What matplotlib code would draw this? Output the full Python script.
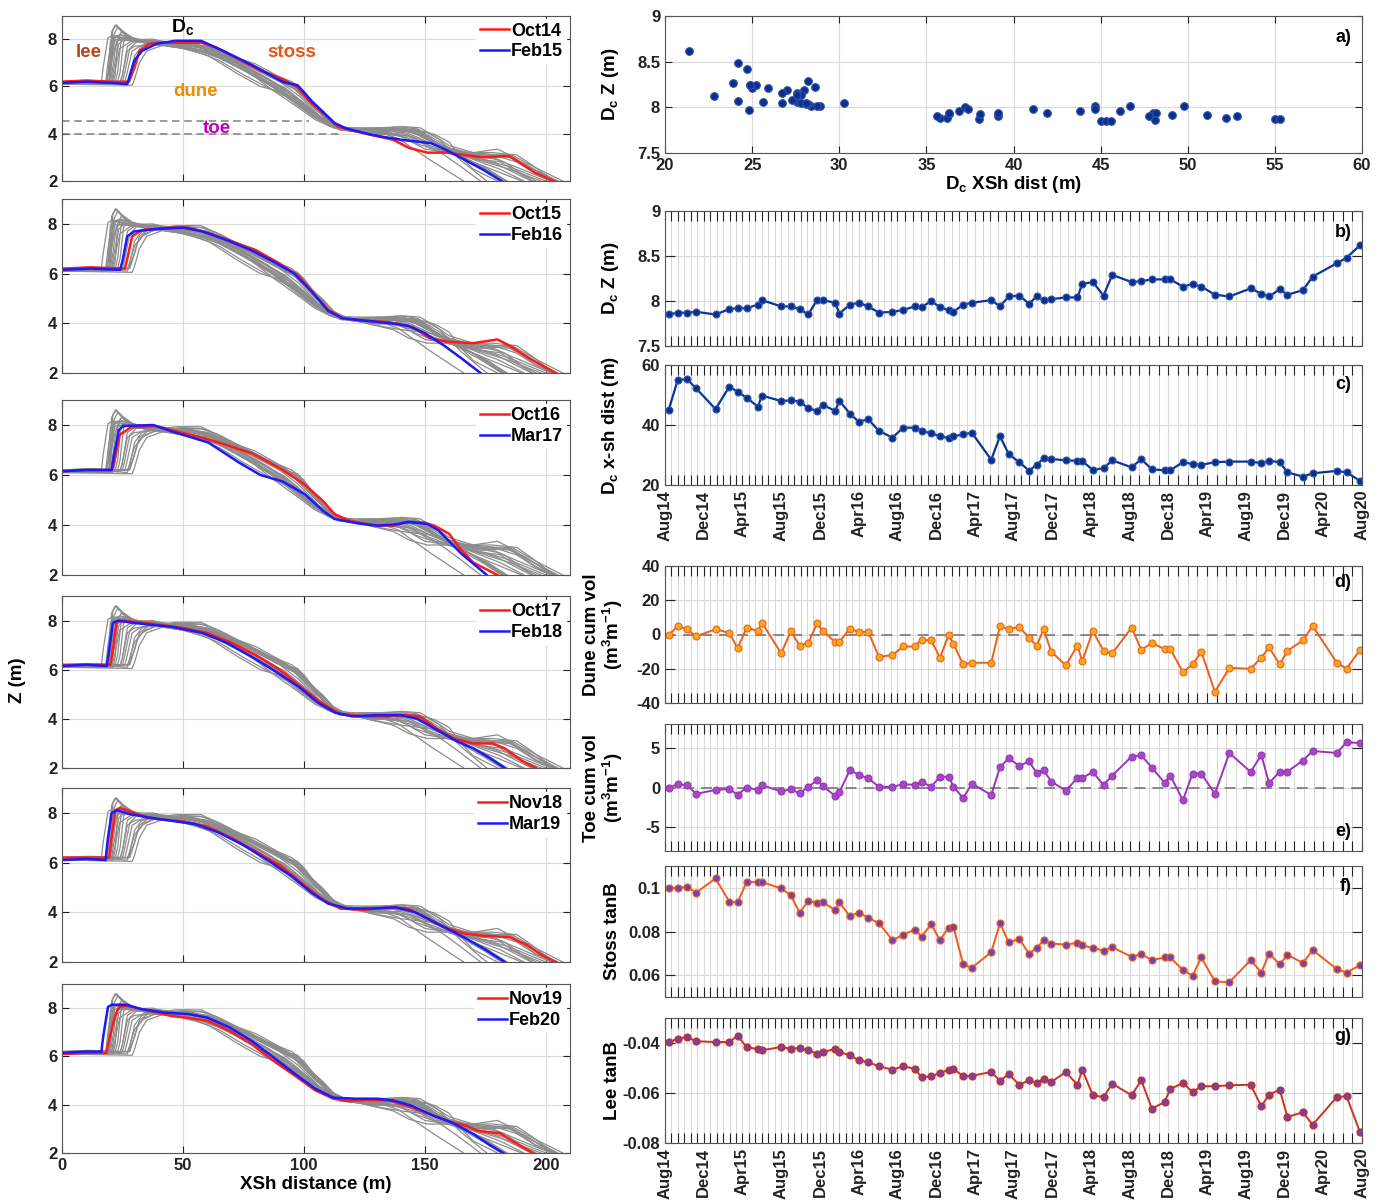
import numpy as np
import matplotlib
matplotlib.use('Agg')
from matplotlib import pyplot as plt
from matplotlib.lines import Line2D

plt.rcParams['font.family'] = ['Liberation Sans', 'DejaVu Sans']
plt.rcParams['font.weight'] = 'bold'
plt.rcParams['axes.labelweight'] = 'bold'
plt.rcParams['mathtext.fontset'] = 'custom'
plt.rcParams['mathtext.rm'] = 'Liberation Sans:bold'
plt.rcParams['mathtext.it'] = 'Liberation Sans:bold'
plt.rcParams['mathtext.bf'] = 'Liberation Sans:bold'
plt.rcParams['axes.unicode_minus'] = False

# ---------------- time series (66 surveys), months since Aug 2014 ----------------
survey_month = [0.37, 1.32, 2.27, 3.22, 5.22, 6.65, 7.49, 8.44, 9.6, 10.0,
                12.0, 13.0, 13.9, 14.8, 15.7, 16.3, 17.6, 18.0, 19.1, 20.0,
                21.0, 22.1, 23.5, 24.6, 25.8, 26.5, 27.5, 28.4, 29.3, 29.8,
                30.8, 31.7, 33.7, 34.6, 35.5, 36.6, 37.6, 38.4, 39.1, 39.9,
                41.4, 42.6, 43.1, 44.2, 45.3, 46.2, 48.2, 49.2, 50.3, 51.6,
                52.2, 53.5, 54.5, 55.4, 56.8, 58.3, 60.5, 61.6, 62.4, 63.5,
                64.3, 65.9, 66.9, 69.4, 70.4, 71.8]

dc_z = [7.85, 7.87, 7.87, 7.88, 7.85, 7.91, 7.92, 7.92, 7.96, 8.01,
        7.94, 7.94, 7.91, 7.85, 8.01, 8.01, 7.98, 7.86, 7.96, 7.98,
        7.94, 7.87, 7.88, 7.90, 7.94, 7.93, 8.00, 7.93, 7.90, 7.88,
        7.96, 7.98, 8.01, 7.94, 8.05, 8.06, 7.97, 8.05, 8.01, 8.02,
        8.04, 8.04, 8.19, 8.21, 8.06, 8.29, 8.21, 8.22, 8.24, 8.24,
        8.24, 8.16, 8.19, 8.16, 8.07, 8.05, 8.14, 8.08, 8.05, 8.13,
        8.07, 8.12, 8.27, 8.42, 8.48, 8.62]

dc_dist = [45.0, 55.0, 55.3, 52.2, 45.3, 52.8, 51.1, 49.1, 46.1, 49.8,
           48.0, 48.2, 47.8, 45.6, 44.7, 46.7, 44.7, 48.1, 43.8, 41.1,
           41.9, 38.0, 35.8, 39.1, 39.1, 38.1, 37.2, 36.3, 35.6, 36.2,
           36.9, 37.4, 28.4, 36.3, 30.3, 27.6, 24.8, 26.7, 28.9, 28.7,
           28.2, 28.1, 28.0, 25.0, 25.6, 28.2, 25.9, 28.6, 25.2, 24.9,
           24.9, 27.6, 27.0, 26.7, 27.6, 27.8, 27.8, 27.3, 28.1, 27.6,
           24.2, 22.8, 23.9, 24.7, 24.2, 21.4]

dune_vol = [-0.5, 5, 3, -1, 3, 1, -8, 4, 2, 7,
            -11, 2, -6.5, -5, 6.5, 2, -4.5, -4.5, 3.5, 1.5,
            1.5, -13, -12, -7, -7, -3, -3.5, -13.5, -0.5, -5.5,
            -17.5, -16.5, -16.5, 5, 3, 4.5, -2, -6.5, 3, -10,
            -18, -6.5, -15.5, 2, -9.5, -11, 4, -9, -5, -8.5,
            -8.5, -22, -17.5, -10, -33.5, -19.5, -20, -13.5, -7.5, -17.5,
            -9.5, -3.5, 5, -16.5, -20, -9]

toe_vol = [0, 0.4, 0.3, -0.8, -0.3, -0.2, -0.9, 0, -0.3, 0.3,
           -0.5, -0.2, -0.75, 0.1, 0.9, 0.2, -1.1, -0.6, 2.2, 1.6,
           1.15, 0.1, 0.1, 0.4, 0.35, 0.7, 0.1, 1.35, 1.35, 0.1,
           -1.35, 0.5, -0.95, 2.55, 3.7, 2.7, 3.3, 1.8, 2.2, 0.75,
           -0.4, 1.2, 1.2, 1.95, 0.3, 1.5, 3.9, 4.05, 2.5, 0.6,
           1.5, -1.6, 1.75, 1.75, -0.8, 4.35, 1.95, 4.1, 0.55, 2.0,
           2.0, 3.4, 4.6, 4.35, 5.7, 5.6]

stoss_tanb = [0.1000, 0.1000, 0.1005, 0.0978, 0.1043, 0.0936, 0.0933, 0.1027, 0.1027, 0.1027,
              0.0997, 0.0966, 0.0887, 0.0939, 0.0932, 0.0934, 0.0898, 0.0933, 0.0870, 0.0887,
              0.0863, 0.0838, 0.0760, 0.0785, 0.0809, 0.0776, 0.0834, 0.0760, 0.0818, 0.0821,
              0.0650, 0.0634, 0.0705, 0.0837, 0.0751, 0.0765, 0.0699, 0.0725, 0.0760, 0.0745,
              0.0740, 0.0748, 0.0736, 0.0725, 0.0712, 0.0728, 0.0684, 0.0696, 0.0669, 0.0681,
              0.0681, 0.0623, 0.0598, 0.0681, 0.0571, 0.0568, 0.0669, 0.0612, 0.0699, 0.0650,
              0.0693, 0.0656, 0.0715, 0.0628, 0.0612, 0.0646]

lee_tanb = [-0.0396, -0.0383, -0.0376, -0.0393, -0.0396, -0.0396, -0.0371, -0.0417, -0.0424, -0.0429,
            -0.0416, -0.0423, -0.0420, -0.0429, -0.0443, -0.0437, -0.0423, -0.0436, -0.0449, -0.0469,
            -0.0477, -0.0493, -0.0507, -0.0493, -0.0503, -0.0537, -0.0533, -0.0520, -0.0507, -0.0503,
            -0.0533, -0.0531, -0.0516, -0.0551, -0.0524, -0.0567, -0.0549, -0.0560, -0.0543, -0.0556,
            -0.0516, -0.0567, -0.0507, -0.0609, -0.0616, -0.0563, -0.0609, -0.0549, -0.0663, -0.0636,
            -0.0584, -0.0560, -0.0596, -0.0573, -0.0573, -0.0569, -0.0567, -0.0653, -0.0607, -0.0587,
            -0.0696, -0.0677, -0.0727, -0.0616, -0.0613, -0.0757]

date_labels = ['Aug14', 'Dec14', 'Apr15', 'Aug15', 'Dec15', 'Apr16', 'Aug16', 'Dec16',
               'Apr17', 'Aug17', 'Dec17', 'Apr18', 'Aug18', 'Dec18', 'Apr19', 'Aug19',
               'Dec19', 'Apr20', 'Aug20']

# ---------------- cross-shore profiles (x in m, z in m) ----------------
oct14_x = [0, 10, 20, 27.6, 30, 32, 36, 40.6, 50, 57.5, 63.7, 72.9, 82, 91, 97.4, 102, 108, 114,
           118.9, 128, 137, 143.4, 151, 158.7, 166.4, 174, 184.8, 189.4, 195.6, 203.2]
oct14_z = [6.2, 6.25, 6.2, 6.2, 6.8, 7.5, 7.8, 7.85, 7.85, 7.85, 7.65, 7.16, 6.67, 6.32, 5.97, 5.4,
           4.86, 4.3, 4.16, 3.95, 3.74, 3.4, 3.2, 3.2, 3.1, 3.0, 3.06, 2.77, 2.35, 2.0]
feb15_x = [0, 10, 20, 27, 28.4, 29.9, 33, 39, 46.8, 57.5, 66.7, 79, 91.3, 97.4, 103.5, 112.7,
           117.3, 128, 140.3, 152.6, 158.7, 166.4, 174, 181.7]
feb15_z = [6.15, 6.2, 6.15, 6.1, 6.6, 7.1, 7.5, 7.8, 7.93, 7.93, 7.5, 6.88, 6.19, 6.05, 5.35, 4.45,
           4.23, 3.95, 3.74, 3.6, 3.32, 2.9, 2.48, 2.0]
oct15_x = [0, 12, 26, 27, 29, 33, 45, 52, 60, 70, 80, 90, 98, 104, 110, 116, 125, 135, 145, 152,
           160, 170, 180, 185, 193, 204]
oct15_z = [6.2, 6.25, 6.2, 6.6, 7.5, 7.75, 7.85, 7.85, 7.65, 7.3, 6.95, 6.4, 5.9, 5.2, 4.55, 4.2,
           4.1, 4.05, 3.85, 3.4, 3.25, 3.2, 3.35, 3.1, 2.6, 2.0]
feb16_x = [0, 12, 24, 25, 27, 30, 40, 50, 58, 68, 78, 88, 96, 103, 110, 116, 126, 136, 143, 150,
           158, 165, 173]
feb16_z = [6.15, 6.2, 6.15, 6.5, 7.5, 7.7, 7.8, 7.85, 7.7, 7.35, 6.95, 6.45, 6.0, 5.3, 4.5, 4.2,
           4.1, 4.0, 3.9, 3.6, 3.1, 2.6, 2.0]
oct16_x = [0, 10, 20.7, 22, 23.8, 28.4, 39, 46.8, 57.5, 66.7, 79, 91.3, 100.5, 108, 112.7, 118.9,
           128, 137, 141.7, 149.4, 154, 160, 165, 170, 180]
oct16_z = [6.15, 6.2, 6.2, 6.7, 7.6, 7.9, 7.96, 7.76, 7.5, 7.24, 6.85, 6.2, 5.6, 4.95, 4.43, 4.17,
           4.0, 3.97, 4.1, 4.1, 3.97, 3.65, 3.0, 2.5, 2.0]
mar17_x = [0, 10, 20.5, 21.5, 23.5, 25.3, 37.6, 46.8, 60.5, 72.8, 82, 91.3, 100.5, 108, 112.7,
           122, 131, 138.8, 143.4, 151, 155.7, 165, 175.6]
mar17_z = [6.15, 6.2, 6.2, 6.8, 7.8, 7.96, 8.0, 7.7, 7.3, 6.52, 6.0, 5.74, 5.22, 4.56, 4.24,
           4.07, 3.97, 4.04, 4.13, 4.04, 3.78, 2.86, 2.0]
oct17_x = [0, 10, 20, 21, 22.5, 25, 35, 50, 60, 70, 80, 90, 100, 108, 115, 125, 135, 142, 148,
           155, 162, 170, 178, 183, 190, 196]
oct17_z = [6.2, 6.2, 6.2, 6.8, 7.9, 8.0, 7.9, 7.7, 7.5, 7.1, 6.6, 6.0, 5.2, 4.6, 4.2, 4.1, 4.1,
           4.15, 4.1, 3.6, 3.2, 3.0, 3.0, 2.8, 2.3, 2.0]
feb18_x = [0, 10, 18.5, 19.5, 21, 23, 30, 45, 58, 68, 78, 88, 98, 106, 113, 120, 130, 140, 147,
           155, 163, 170, 177, 183]
feb18_z = [6.15, 6.2, 6.15, 6.8, 7.9, 8.0, 7.9, 7.75, 7.5, 7.1, 6.55, 5.95, 5.3, 4.65, 4.25, 4.1,
           4.15, 4.15, 4.0, 3.55, 3.1, 2.8, 2.4, 2.0]
nov18_x = [0, 10, 19.5, 20.5, 22, 24, 27, 35, 50, 60, 70, 80, 90, 100, 108, 115, 125, 135, 143,
           150, 158, 166, 175, 185, 192, 198, 204]
nov18_z = [6.2, 6.2, 6.2, 7.0, 8.1, 8.2, 8.1, 7.8, 7.65, 7.45, 7.0, 6.45, 5.9, 5.1, 4.5, 4.15,
           4.1, 4.2, 4.15, 3.8, 3.4, 3.15, 3.05, 3.0, 2.7, 2.3, 2.0]
mar19_x = [0, 10, 18, 19, 20.5, 23, 28, 40, 55, 65, 75, 85, 95, 103, 110, 118, 128, 138, 146,
           153, 160, 167, 175, 183]
mar19_z = [6.1, 6.15, 6.1, 7.0, 8.0, 8.1, 7.95, 7.75, 7.55, 7.2, 6.7, 6.1, 5.45, 4.8, 4.35, 4.15,
           4.15, 4.2, 4.0, 3.65, 3.3, 2.95, 2.5, 2.0]
nov19_x = [0, 10, 18.3, 19, 22, 23.7, 26.7, 29.8, 35.9, 45, 54.2, 60.3, 69.5, 78.6, 87.8, 96.9,
           104.6, 112.2, 118.3, 126, 135, 144.3, 153.4, 161, 167.2, 171.8, 176, 181, 186, 194.6]
nov19_z = [6.1, 6.15, 6.15, 6.5, 7.7, 8.05, 8.1, 8.03, 7.89, 7.68, 7.57, 7.47, 7.05, 6.49, 5.79,
           5.16, 4.6, 4.25, 4.15, 4.2, 4.18, 3.9, 3.55, 3.27, 3.13, 2.92, 2.87, 2.82, 2.5, 2.0]
feb20_x = [0, 10, 16.3, 17, 19, 20.6, 26.7, 32.8, 42, 52.7, 60.3, 69.5, 78.6, 87.8, 96.9, 104.6,
           112.2, 121.4, 130.5, 136.6, 144.3, 153.4, 161, 170.2, 176.3, 182.4]
feb20_z = [6.15, 6.2, 6.2, 6.8, 8.05, 8.14, 8.14, 7.96, 7.82, 7.75, 7.6, 7.19, 6.63, 5.93, 5.23,
           4.67, 4.29, 4.25, 4.25, 4.18, 3.97, 3.55, 3.27, 2.78, 2.36, 2.0]

# other surveys (grey background profiles), [(x, z), ...]
grey_profiles = [
    [(0, 6.15), (18, 6.15), (19.5, 6.3), (20.5, 8.3), (22, 8.6), (24, 8.4), (28, 8.0), (35, 7.85), (50, 7.8),
     (60, 7.6), (70, 7.1), (80, 6.6), (90, 6.0), (100, 5.2), (108, 4.6), (115, 4.2), (125, 4.1), (135, 4.15),
     (145, 4.2), (152, 3.9), (160, 3.4), (170, 3.1), (180, 2.9), (190, 2.5), (202, 2.0)],
    [(0, 6.2), (19, 6.2), (20, 6.4), (21.5, 8.2), (23, 8.5), (25, 8.3), (30, 7.95), (40, 7.9), (55, 7.75),
     (65, 7.4), (75, 6.9), (85, 6.35), (95, 5.7), (103, 5.0), (112, 4.3), (120, 4.15), (130, 4.2), (140, 4.3),
     (147, 4.2), (155, 3.6), (165, 3.2), (175, 3.1), (183, 3.1), (193, 2.6), (205, 2.0)],
    [(0, 6.1), (21, 6.1), (22, 6.5), (23, 8.0), (24.5, 8.3), (27, 8.15), (32, 7.9), (45, 7.85), (58, 7.7),
     (68, 7.3), (78, 6.8), (88, 6.3), (96, 5.9), (104, 5.1), (113, 4.3), (120, 4.1), (130, 4.05), (140, 4.2),
     (148, 4.15), (156, 3.5), (165, 3.1), (175, 2.8), (185, 2.5), (198, 2.0)],
    [(0, 6.2), (28, 6.2), (29, 6.5), (31, 7.2), (34, 7.6), (40, 7.8), (50, 7.9), (58, 7.85), (65, 7.6),
     (75, 7.1), (85, 6.6), (95, 6.2), (100, 5.8), (106, 5.0), (112, 4.4), (118, 4.15), (128, 4.0), (138, 3.95),
     (142, 3.8), (150, 3.35), (160, 3.2), (170, 3.15), (180, 3.05), (188, 2.8), (196, 2.3), (203, 2.0)],
    [(0, 6.2), (25, 6.2), (26, 6.6), (28, 7.6), (31, 7.9), (38, 7.95), (48, 7.85), (60, 7.6), (70, 7.25),
     (80, 6.75), (90, 6.2), (98, 5.6), (106, 4.8), (114, 4.25), (122, 4.1), (132, 4.0), (140, 3.9),
     (145, 3.75), (155, 3.4), (165, 3.0), (175, 2.6), (185, 2.2), (190, 2.0)],
    [(0, 6.15), (24, 6.15), (25, 6.5), (27, 7.7), (30, 7.9), (40, 7.85), (52, 7.8), (62, 7.5), (72, 7.0),
     (82, 6.45), (92, 5.95), (100, 5.3), (108, 4.6), (116, 4.15), (125, 4.05), (133, 4.0), (139, 3.8),
     (152, 2.9), (166, 2.0)],
    [(0, 6.2), (22, 6.2), (23, 6.6), (24.5, 8.0), (27, 8.1), (33, 7.9), (45, 7.8), (57, 7.7), (67, 7.35),
     (77, 6.9), (87, 6.4), (97, 5.85), (105, 5.0), (113, 4.35), (121, 4.2), (131, 4.25), (141, 4.3),
     (148, 4.25), (154, 3.9), (160, 3.5), (170, 3.2), (180, 3.1), (186, 3.1), (195, 2.6), (203, 2.2), (207, 2.0)],
    [(0, 6.1), (18, 6.1), (19, 6.5), (20, 7.9), (22, 8.1), (26, 8.05), (34, 7.85), (45, 7.7), (55, 7.5),
     (65, 7.1), (75, 6.5), (85, 5.95), (95, 5.45), (103, 4.85), (110, 4.35), (118, 4.15), (128, 4.2),
     (138, 4.2), (146, 4.05), (153, 3.7), (160, 3.3), (168, 2.9), (176, 2.5), (184, 2.0)],
    [(0, 6.2), (27, 6.2), (28, 6.4), (30, 7.3), (33, 7.7), (40, 7.85), (52, 7.85), (62, 7.65), (72, 7.2),
     (82, 6.7), (92, 6.2), (99, 5.75), (107, 4.85), (114, 4.25), (122, 4.1), (132, 4.1), (142, 4.15),
     (150, 3.9), (158, 3.45), (168, 3.2), (178, 3.2), (188, 3.1), (194, 2.7), (200, 2.25), (204, 2.0)],
    [(0, 6.15), (19, 6.15), (20, 6.5), (21, 8.4), (22.5, 8.6), (25, 8.35), (30, 8.0), (38, 7.85), (50, 7.7),
     (60, 7.45), (70, 6.95), (80, 6.4), (90, 5.85), (100, 5.1), (108, 4.5), (116, 4.15), (126, 4.2),
     (136, 4.25), (146, 4.15), (155, 3.55), (163, 3.2), (172, 2.95), (180, 2.7), (188, 2.3), (194, 2.0)],
    [(0, 6.1), (29, 6.05), (30, 6.3), (32, 7.0), (35, 7.5), (42, 7.75), (52, 7.8), (60, 7.7), (70, 7.3),
     (80, 6.8), (90, 6.3), (98, 5.9), (104, 5.3), (112, 4.5), (118, 4.2), (128, 4.05), (138, 4.0),
     (146, 3.6), (155, 3.3), (165, 3.05), (175, 2.9), (185, 2.6), (195, 2.2), (200, 2.0)],
    [(0, 6.2), (23, 6.2), (24, 6.6), (25.5, 7.9), (28, 8.05), (35, 7.95), (47, 7.8), (58, 7.6), (68, 7.2),
     (78, 6.6), (88, 6.05), (97, 5.5), (105, 4.75), (113, 4.3), (121, 4.15), (131, 4.2), (141, 4.25),
     (149, 4.0), (157, 3.5), (165, 3.1), (173, 2.8), (181, 2.5), (191, 2.0)],
]

pairs = [(oct14_x, oct14_z, 'Oct14', feb15_x, feb15_z, 'Feb15'),
         (oct15_x, oct15_z, 'Oct15', feb16_x, feb16_z, 'Feb16'),
         (oct16_x, oct16_z, 'Oct16', mar17_x, mar17_z, 'Mar17'),
         (oct17_x, oct17_z, 'Oct17', feb18_x, feb18_z, 'Feb18'),
         (nov18_x, nov18_z, 'Nov18', mar19_x, mar19_z, 'Mar19'),
         (nov19_x, nov19_z, 'Nov19', feb20_x, feb20_z, 'Feb20')]

toe_levels = [4.0, 4.55]
toe_line_end = [116, 102]

W, H = 1386, 1203
fig = plt.figure(figsize=(W / 100, H / 100), dpi=100)


def add_ax(left, top, right, bottom):
    return fig.add_axes([left / W, 1 - bottom / H, (right - left) / W, (bottom - top) / H])


def style(ax):
    ax.tick_params(which='both', direction='in', top=True, right=True, labelsize=12,
                   width=0.8, colors='#222222')
    ax.tick_params(which='major', length=5)
    for s in ax.spines.values():
        s.set_color('#555555')
        s.set_linewidth(0.8)
    ax.grid(True, which='major', color='#dadada', lw=0.8)
    ax.set_axisbelow(True)


# ---------------- left: profiles ----------------
left_boxes = [(15.5, 181), (199, 373), (400, 575), (596, 768), (788, 962), (984, 1153)]
for i, ((top, bot), pr) in enumerate(zip(left_boxes, pairs)):
    ax = add_ax(62, top, 570, bot)
    style(ax)
    for prof in grey_profiles:
        ax.plot([p[0] for p in prof], [p[1] for p in prof], color='#8c8c8c', lw=0.9)
    for p in pairs:
        ax.plot(p[0], p[1], color='#8c8c8c', lw=0.9)
        ax.plot(p[3], p[4], color='#8c8c8c', lw=0.9)
    ax.plot(pr[0], pr[1], color='#ff1a1a', lw=1.8)
    ax.plot(pr[3], pr[4], color='#1a1aff', lw=1.8)
    ax.set_xlim(0, 210)
    ax.set_ylim(2, 9)
    ax.set_xticks([0, 50, 100, 150, 200])
    ax.set_yticks([2, 4, 6, 8])
    handles = [Line2D([], [], color='#ff1a1a', lw=1.8), Line2D([], [], color='#1a1aff', lw=1.8)]
    leg = ax.legend(handles, [pr[2], pr[5]], loc='upper right', fontsize=13, handlelength=1.6,
                    handletextpad=0.1, borderpad=0.2, labelspacing=0.2, framealpha=1,
                    edgecolor='white', fancybox=False, borderaxespad=0.2)
    for t in leg.get_texts():
        t.set_fontweight('bold')
    if i < 5:
        ax.tick_params(labelbottom=False)
    else:
        ax.set_xlabel('XSh distance (m)', fontsize=13.5, labelpad=2)
    if i == 0:
        for lev, xe in zip(toe_levels, toe_line_end):
            ax.plot([0, xe], [lev, lev], ls='--', color='#808080', lw=1.1, dashes=(5, 3))
        ax.text(11, 7.45, 'lee', color='#b0481a', fontsize=13.5, ha='center', va='center')
        ax.text(95, 7.45, 'stoss', color='#e2551c', fontsize=13.5, ha='center', va='center')
        ax.text(55, 5.8, 'dune', color='#f08c00', fontsize=13.5, ha='center', va='center')
        ax.text(64, 4.22, 'toe', color='#c000b8', fontsize=13.5, ha='center', va='center')
        ax.text(50, 8.5, r'$D_c$', color='black', fontsize=14, ha='center', va='center')

fig.text(18 / W, 1 - 680 / H, 'Z (m)', rotation=90, ha='center', va='center', fontsize=13.5)

# ---------------- right: a) scatter ----------------
axa = add_ax(665, 16, 1362, 153)
style(axa)
axa.plot(dc_dist, dc_z, 'o', ms=5.5, mfc='#0b2f8a', mec='#2d52aa', mew=0.8)
axa.set_xlim(20, 60)
axa.set_ylim(7.5, 9)
axa.set_xticks(np.arange(20, 61, 5))
axa.set_yticks([7.5, 8, 8.5, 9])
axa.set_yticklabels(['7.5', '8', '8.5', '9'])
axa.set_xlabel(r'$D_c$ XSh dist (m)', fontsize=13.5, labelpad=1)
axa.set_ylabel(r'$D_c$ Z (m)', fontsize=13.5)
axa.yaxis.set_label_coords(-0.063, 0.5)
axa.text(0.985, 0.84, 'a)', transform=axa.transAxes, ha='right', va='center', fontsize=13)

# ---------------- right: time series ----------------
grid_months = np.concatenate([np.arange(0, 24, 2 / 3), np.arange(24, 48, 0.8), np.arange(48, 72.01, 1.0)])


def time_ax(top, bot, show_labels):
    ax = add_ax(665, top, 1362, bot)
    style(ax)
    ax.set_xlim(0, 72)
    ax.set_xticks(np.arange(0, 73, 4))
    ax.set_xticks(grid_months, minor=True)
    ax.grid(True, which='minor', axis='x', color='#d6d6d6', lw=0.7)
    ax.tick_params(which='minor', length=7, top=True, bottom=True)
    ax.tick_params(which='major', length=7)
    if show_labels:
        ax.set_xticklabels(date_labels, rotation=90, fontsize=12)
    else:
        ax.tick_params(labelbottom=False)
    return ax


axb = time_ax(211, 346, False)
axb.plot(survey_month, dc_z, '-o', color='#0a3594', lw=1.6, ms=5, mfc='#0b2f8a', mec='#3357b0', mew=0.8)
axb.set_ylim(7.5, 9)
axb.set_yticks([7.5, 8, 8.5, 9])
axb.set_yticklabels(['7.5', '8', '8.5', '9'])
axb.set_ylabel(r'$D_c$ Z (m)', fontsize=13.5)
axb.yaxis.set_label_coords(-0.063, 0.5)
axb.text(0.985, 0.84, 'b)', transform=axb.transAxes, ha='right', va='center', fontsize=13)

axc = time_ax(365, 485, True)
axc.plot(survey_month, dc_dist, '-o', color='#0a3594', lw=1.6, ms=5, mfc='#0b2f8a', mec='#3357b0', mew=0.8)
axc.set_ylim(20, 60)
axc.set_yticks([20, 40, 60])
axc.set_ylabel(r'$D_c$ x-sh dist (m)', fontsize=13.5)
axc.yaxis.set_label_coords(-0.063, 0.5)
axc.text(0.985, 0.84, 'c)', transform=axc.transAxes, ha='right', va='center', fontsize=13)

axd = time_ax(566, 703, False)
axd.axhline(0, ls='--', color='#808080', lw=1.3, dashes=(6, 4))
axd.plot(survey_month, dune_vol, '-o', color='#ee5f1b', lw=1.4, ms=5, mfc='#f7a81e', mec='#f06418', mew=0.8)
axd.set_ylim(-40, 40)
axd.set_yticks([-40, -20, 0, 20, 40])
axd.set_ylabel('Dune cum vol\n(m$^3$m$^{-1}$)', fontsize=13.5, linespacing=1.0)
axd.yaxis.set_label_coords(-0.058, 0.5)
axd.text(0.985, 0.88, 'd)', transform=axd.transAxes, ha='right', va='center', fontsize=13)

axe = time_ax(724, 851, False)
axe.axhline(0, ls='--', color='#808080', lw=1.3, dashes=(6, 4))
axe.plot(survey_month, toe_vol, '-o', color='#9b35b8', lw=1.4, ms=5, mfc='#a449c6', mec='#9b35b8', mew=0.8)
axe.set_ylim(-8, 8)
axe.set_yticks([-5, 0, 5])
axe.set_ylabel('Toe cum vol\n(m$^3$m$^{-1}$)', fontsize=13.5, linespacing=1.0)
axe.yaxis.set_label_coords(-0.058, 0.5)
axe.text(0.985, 0.15, 'e)', transform=axe.transAxes, ha='right', va='center', fontsize=13)

axf = time_ax(866, 997, False)
axf.plot(survey_month, stoss_tanb, '-o', color='#f05a1a', lw=1.4, ms=5, mfc='#6b45b8', mec='#f05a1a', mew=0.9)
axf.set_ylim(0.05, 0.11)
axf.set_yticks([0.06, 0.08, 0.1])
axf.set_yticklabels(['0.06', '0.08', '0.1'])
axf.set_ylabel('Stoss tanB', fontsize=13.5)
axf.yaxis.set_label_coords(-0.063, 0.5)
axf.text(0.985, 0.84, 'f)', transform=axf.transAxes, ha='right', va='center', fontsize=13)

axg = time_ax(1018, 1143, True)
axg.plot(survey_month, lee_tanb, '-o', color='#c8321e', lw=1.4, ms=5, mfc='#7a3fa8', mec='#c8321e', mew=0.9)
axg.set_ylim(-0.08, -0.03)
axg.set_yticks([-0.08, -0.06, -0.04])
axg.set_yticklabels(['-0.08', '-0.06', '-0.04'])
axg.set_ylabel('Lee tanB', fontsize=13.5)
axg.yaxis.set_label_coords(-0.063, 0.5)
axg.text(0.985, 0.85, 'g)', transform=axg.transAxes, ha='right', va='center', fontsize=13)

fig.savefig('out.png', dpi=100)
